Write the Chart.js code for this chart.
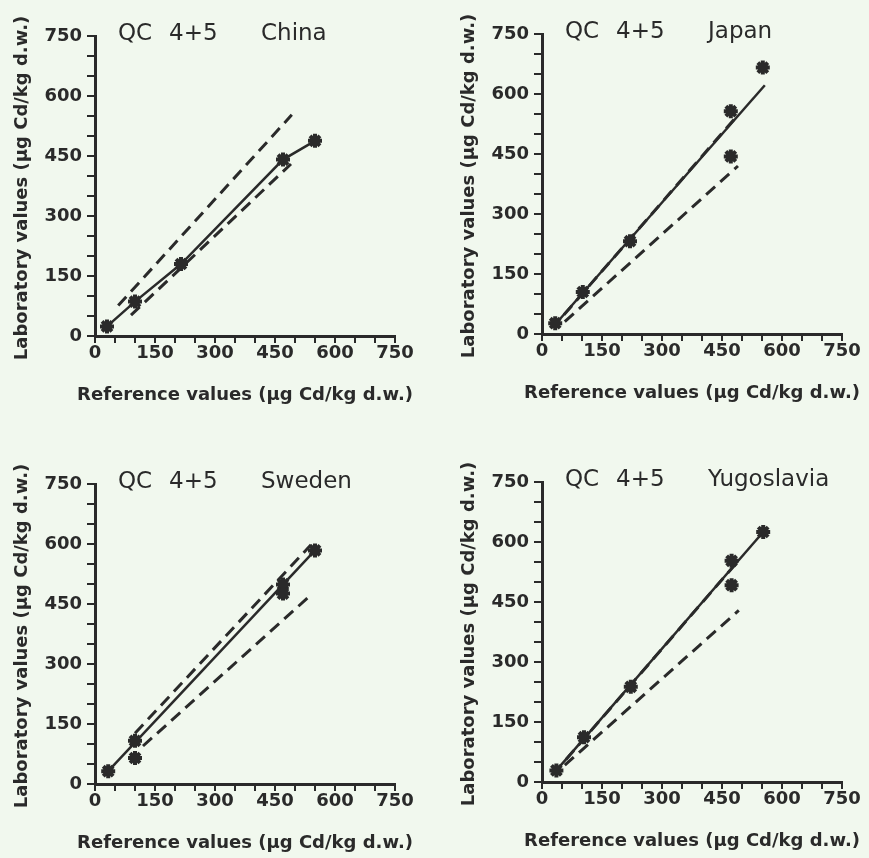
<!DOCTYPE html>
<html>
<head>
<meta charset="utf-8">
<script src="https://cdn.jsdelivr.net/npm/chart.js@4/dist/chart.umd.min.js"></script>
<style>
  html, body { margin: 0; padding: 0; background: #f1f8ee; }
  body { width: 869px; height: 858px; position: relative; overflow: hidden; }
  canvas { position: absolute; }
</style>
</head>
<body>
<canvas id="china" width="434" height="410" style="left:0;top:0"></canvas>
<canvas id="japan" width="422" height="410" style="left:447px;top:-2px"></canvas>
<canvas id="sweden" width="434" height="410" style="left:0;top:448px"></canvas>
<canvas id="yugo" width="422" height="410" style="left:447px;top:446px"></canvas>
<script>
// axis ticks: marks every 50, numbers every 150
var tickLabels = [0, 150, 300, 450, 600, 750];
var xTitle = 'Reference values (\u00b5g Cd/kg d.w.)';
var yTitle = 'Laboratory values (\u00b5g Cd/kg d.w.)';

// China
var chinaRef = [30, 100, 215, 470, 550];
var chinaLab = [24, 86, 180, 441, 488];
var chinaUpperX = [58, 492], chinaUpperY = [76, 553];
var chinaLowerX = [90, 490], chinaLowerY = [52, 430];

// Japan
var japanRef = [33, 102, 220, 472, 472, 552];
var japanLab = [27, 105, 232, 557, 444, 666];
var japanFitX = [40, 557], japanFitY = [32, 622];
var japanUpperX = [55, 490], japanUpperY = [48, 548];
var japanLowerX = [57, 490], japanLowerY = [31, 420];

// Sweden
var swedenRef = [33, 100, 100, 470, 470, 550];
var swedenLab = [32, 108, 65, 499, 476, 584];
var swedenFitX = [33, 550], swedenFitY = [32, 584];
var swedenUpperX = [100, 540], swedenUpperY = [127, 598];
var swedenLowerX = [120, 537], swedenLowerY = [95, 470];

// Yugoslavia
var yugoRef = [36, 105, 222, 474, 474, 553];
var yugoLab = [29, 112, 238, 553, 492, 625];
var yugoFitX = [36, 553], yugoFitY = [29, 625];
var yugoUpperX = [60, 490], yugoUpperY = [56, 552];
var yugoLowerX = [57, 492], yugoLowerY = [42, 429];

var ink = '#2a2a2a';

function xy(xs, ys) {
    return xs.map(function (x, i) { return { x: x, y: ys[i] }; });
}

// panel heading and axis titles; drawn by hand so the long
// titles are not squeezed to the plot width
var panelText = {
    id: 'panelText',
    afterDraw: function (chart, args, opts) {
        var ctx = chart.ctx, area = chart.chartArea;
        ctx.save();
        ctx.fillStyle = ink;
        ctx.font = '23px "DejaVu Sans"';
        ctx.textBaseline = 'alphabetic';
        ctx.textAlign = 'left';
        ctx.fillText('QC', area.left + 23, area.top + 4);
        ctx.fillText('4+5', area.left + 74, area.top + 4);
        ctx.fillText(opts.country, area.left + 166, area.top + 4);

        ctx.font = 'bold 18px "DejaVu Sans"';
        ctx.textAlign = 'center';
        ctx.textBaseline = 'middle';
        ctx.fillText(xTitle, (area.left + area.right) / 2, area.bottom + 59);
        ctx.translate(22, (area.top + area.bottom) / 2 + 2);
        ctx.rotate(-Math.PI / 2);
        ctx.fillText(yTitle, 0, 0);
        ctx.restore();
    }
};

function axis(vertical) {
    return {
        type: 'linear',
        min: 0,
        max: 750,
        ticks: {
            stepSize: 50,
            autoSkip: false,
            maxRotation: 0,
            color: ink,
            padding: vertical ? 5 : 0,
            font: { family: 'DejaVu Sans', size: 18, weight: 'bold' },
            callback: function (v) { return tickLabels.indexOf(v) >= 0 ? v : ''; }
        },
        grid: { drawOnChartArea: false, drawTicks: true, tickLength: vertical ? 8 : 7, color: ink, lineWidth: 2 },
        border: { display: true, color: ink, width: 3 },
        afterFit: function (scale) {
            if (vertical) scale.width = 95; else scale.height = 74;
        }
    };
}

function panel(id, country, ref, lab, fit, upper, lower, rightPad) {
    var datasets = [{
        data: xy(ref, lab),
        showLine: !fit,
        borderColor: ink,
        backgroundColor: ink,
        borderWidth: 2.5,
        pointStyle: 'star',
        pointRadius: 7,
        pointBorderWidth: 4
    }];
    if (fit) {
        datasets.push({ data: fit, showLine: true, pointRadius: 0, borderColor: ink, borderWidth: 2.5 });
    }
    datasets.push({ data: upper, showLine: true, pointRadius: 0, borderColor: ink, borderWidth: 3, borderDash: [12, 7] });
    datasets.push({ data: lower, showLine: true, pointRadius: 0, borderColor: ink, borderWidth: 3, borderDash: [12, 7] });

    new Chart(document.getElementById(id).getContext('2d'), {
        type: 'scatter',
        data: { datasets: datasets },
        options: {
            responsive: false,
            animation: false,
            layout: { padding: { top: 36, left: 0, right: rightPad, bottom: 0 } },
            scales: { x: axis(false), y: axis(true) },
            plugins: {
                legend: { display: false },
                tooltip: { enabled: false },
                panelText: { country: country }
            }
        },
        plugins: [panelText]
    });
}

panel('china', 'China', chinaRef, chinaLab, null,
    xy(chinaUpperX, chinaUpperY), xy(chinaLowerX, chinaLowerY), 39);
panel('japan', 'Japan', japanRef, japanLab, xy(japanFitX, japanFitY),
    xy(japanUpperX, japanUpperY), xy(japanLowerX, japanLowerY), 27);
panel('sweden', 'Sweden', swedenRef, swedenLab, xy(swedenFitX, swedenFitY),
    xy(swedenUpperX, swedenUpperY), xy(swedenLowerX, swedenLowerY), 39);
panel('yugo', 'Yugoslavia', yugoRef, yugoLab, xy(yugoFitX, yugoFitY),
    xy(yugoUpperX, yugoUpperY), xy(yugoLowerX, yugoLowerY), 27);
</script>
</body>
</html>
